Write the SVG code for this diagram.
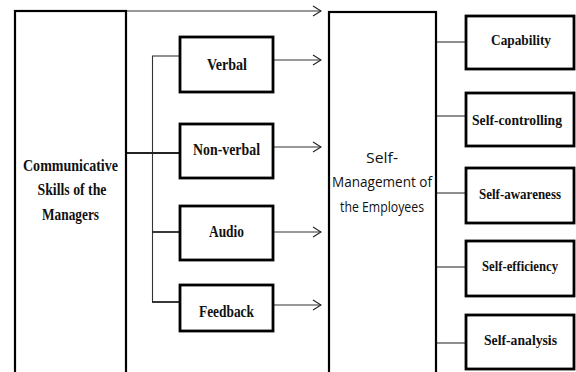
<svg xmlns="http://www.w3.org/2000/svg" width="576" height="372" viewBox="0 0 576 372">
<defs>
<marker id="arr" viewBox="0 0 10 12" refX="9" refY="6" markerWidth="10" markerHeight="12" markerUnits="userSpaceOnUse" orient="auto">
<path d="M1,1 L9,6 L1,11" fill="none" stroke="#222" stroke-width="1.1"/>
</marker>
</defs>
<style>
.big{fill:#fff;stroke:#000;stroke-width:2.2}
.box{fill:#fff;stroke:#000;stroke-width:2.8}
.ln{fill:none;stroke:#333;stroke-width:1.1}
.ln2{fill:none;stroke:#222;stroke-width:1.8}
.t{font-family:"Liberation Serif","Times New Roman",serif;font-weight:bold;font-size:17px;fill:#111;text-anchor:middle}
.r{font-size:15px}
.s{font-family:"Open Sans","Liberation Sans",Arial,sans-serif;font-size:14px;fill:#111;text-anchor:middle}
</style>
<rect width="576" height="372" fill="#fff"/>
<g id="connectors">
<line class="ln" x1="126" y1="11" x2="321" y2="11" marker-end="url(#arr)"/>
<line class="ln" x1="152.5" y1="56" x2="152.5" y2="302"/>
<line class="ln" x1="152" y1="56" x2="180" y2="56"/>
<line class="ln2" x1="126" y1="153" x2="180" y2="153"/>
<line class="ln2" x1="152" y1="232" x2="180" y2="232"/>
<line class="ln2" x1="152" y1="302" x2="180" y2="302"/>
<line class="ln" x1="273" y1="60" x2="321" y2="60" marker-end="url(#arr)"/>
<line class="ln" x1="273" y1="147" x2="321" y2="147" marker-end="url(#arr)"/>
<line class="ln" x1="273" y1="232" x2="321" y2="232" marker-end="url(#arr)"/>
<line class="ln" x1="273" y1="305" x2="321" y2="305" marker-end="url(#arr)"/>
<line class="ln" x1="436" y1="42" x2="466" y2="42"/>
<line class="ln" x1="436" y1="116" x2="466" y2="116"/>
<line class="ln" x1="436" y1="193" x2="466" y2="193"/>
<line class="ln" x1="436" y1="267" x2="466" y2="267"/>
<line class="ln" x1="436" y1="343" x2="466" y2="343"/>
</g>
<g id="managers">
<rect class="big" x="15" y="11" width="111" height="370"/>
<text class="t" x="70.5" y="171" textLength="95" lengthAdjust="spacingAndGlyphs">Communicative</text>
<text class="t" x="72" y="195" textLength="69" lengthAdjust="spacingAndGlyphs">Skills of the</text>
<text class="t" x="70.5" y="220" textLength="57" lengthAdjust="spacingAndGlyphs">Managers</text>
</g>
<g id="verbal">
<rect class="box" x="180" y="37" width="93" height="55"/>
<text class="t" x="227" y="70" textLength="40" lengthAdjust="spacingAndGlyphs">Verbal</text>
</g>
<g id="nonverbal">
<rect class="box" x="180" y="124" width="93" height="54"/>
<text class="t" x="226.5" y="155" textLength="67" lengthAdjust="spacingAndGlyphs">Non-verbal</text>
</g>
<g id="audio">
<rect class="box" x="180" y="206" width="93" height="54"/>
<text class="t" x="226.5" y="237" textLength="35" lengthAdjust="spacingAndGlyphs">Audio</text>
</g>
<g id="feedback">
<rect class="box" x="180" y="285" width="93" height="46"/>
<text class="t" x="226.5" y="317" textLength="55" lengthAdjust="spacingAndGlyphs">Feedback</text>
</g>
<g id="employees">
<rect class="big" x="329" y="12" width="107" height="370"/>
<text class="s" x="382" y="163" textLength="32" lengthAdjust="spacingAndGlyphs">Self-</text>
<text class="s" x="382" y="187" textLength="100" lengthAdjust="spacingAndGlyphs">Management of</text>
<text class="s" x="382" y="212" textLength="84" lengthAdjust="spacingAndGlyphs">the Employees</text>
</g>
<g id="capability">
<rect class="box" x="466" y="16" width="108" height="53"/>
<text class="t r" x="521" y="45" textLength="60" lengthAdjust="spacingAndGlyphs">Capability</text>
</g>
<g id="selfcontrolling">
<rect class="box" x="466" y="93" width="108" height="53"/>
<text class="t r" x="517" y="125" textLength="90" lengthAdjust="spacingAndGlyphs">Self-controlling</text>
</g>
<g id="selfawareness">
<rect class="box" x="466" y="168" width="108" height="55"/>
<text class="t r" x="520" y="199" textLength="82" lengthAdjust="spacingAndGlyphs">Self-awareness</text>
</g>
<g id="selfefficiency">
<rect class="box" x="466" y="241" width="108" height="55"/>
<text class="t r" x="520" y="271" textLength="76" lengthAdjust="spacingAndGlyphs">Self-efficiency</text>
</g>
<g id="selfanalysis">
<rect class="box" x="466" y="315" width="108" height="54"/>
<text class="t r" x="520.5" y="345" textLength="73" lengthAdjust="spacingAndGlyphs">Self-analysis</text>
</g>
</svg>
